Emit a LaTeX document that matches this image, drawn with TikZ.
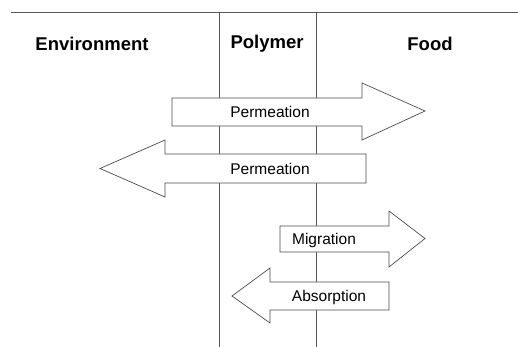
\documentclass[tikz,border=0pt]{standalone}
\usepackage{fontspec}
\setmainfont{Liberation Sans}
\begin{document}
\begin{tikzpicture}[x=1pt,y=-1pt,
  rule/.style={draw=black!65,line width=0.8pt},
  arrowbox/.style={draw=black!70,fill=white,line width=0.7pt,line join=miter},
  head/.style={font=\fontsize{18.5}{20}\selectfont\bfseries,inner sep=0pt},
  lab/.style={font=\fontsize{15.5}{17}\selectfont,inner sep=0pt}]
\useasboundingbox (0,0) rectangle (518,347);
% frame lines
\coordinate (tl) at (11,12.5);
\coordinate (tr) at (518,12.5);
\coordinate (a1) at (219,12.5);
\coordinate (a2) at (219,347);
\coordinate (b1) at (316.5,12.5);
\coordinate (b2) at (316.5,347);
\draw[rule] (tl) -- (tr);
\draw[rule] (a1) -- (a2);
\draw[rule] (b1) -- (b2);
% headings
\node[head] (env) at (92,44) {Environment};
\node[head] (pol) at (267,44) {Polymer};
\node[head] (food) at (430,44) {Food};
% arrow 1: permeation to the right
\draw[arrowbox] (172,98) -- (362,98) -- (362,83) -- (425,111) -- (362,140) -- (362,126) -- (172,126) -- cycle;
\node[lab] (p1) at (270,112) {Permeation};
% arrow 2: permeation to the left
\draw[arrowbox] (366,154) -- (165,154) -- (165,140) -- (100,168.5) -- (165,197) -- (165,183) -- (366,183) -- cycle;
\node[lab] (p2) at (270,169) {Permeation};
% arrow 3: migration
\draw[arrowbox] (280,226) -- (389,226) -- (389,211) -- (425,238.5) -- (389,267) -- (389,252) -- (280,252) -- cycle;
\node[lab] (mig) at (324,240) {Migration};
% arrow 4: absorption
\draw[arrowbox] (389,282) -- (270,282) -- (270,268) -- (232,296) -- (270,323) -- (270,310) -- (389,310) -- cycle;
\node[lab] (abs) at (329,297) {Absorption};
\end{tikzpicture}
\end{document}
